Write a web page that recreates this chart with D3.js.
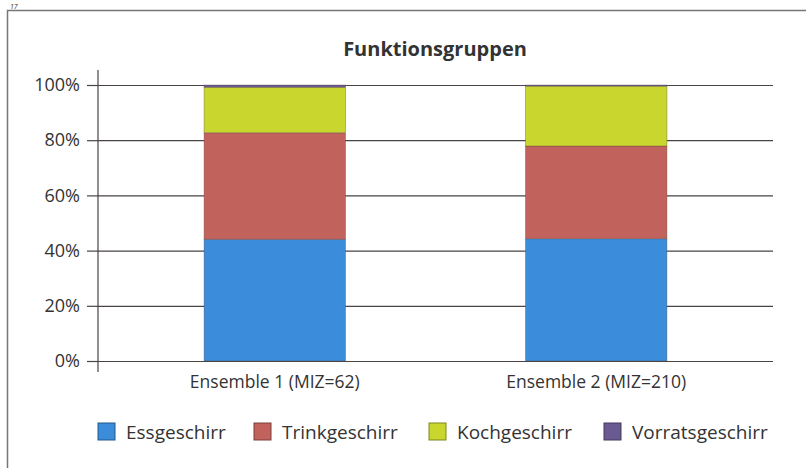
<!DOCTYPE html>
<html>
<head>
<meta charset="utf-8">
<script src="https://cdn.jsdelivr.net/npm/d3@7/dist/d3.min.js"></script>
<style>
  html, body { margin: 0; padding: 0; background: #fff; }
  svg { display: block; }
  text { font-family: "Open Sans", "Noto Sans", sans-serif; fill: #333; }
</style>
</head>
<body>
<svg id="chart" width="806" height="468"></svg>
<script>
// Share of each function group per ensemble (percent)
const categories = ["Ensemble 1 (MIZ=62)", "Ensemble 2 (MIZ=210)"];
const groups = ["Essgeschirr", "Trinkgeschirr", "Kochgeschirr", "Vorratsgeschirr"];
const essgeschirr = [44.1, 44.3];
const trinkgeschirr = [38.6, 33.6];
const kochgeschirr = [16.5, 21.7];
const vorratsgeschirr = [0.8, 0.4];
const yTicks = [0, 20, 40, 60, 80, 100];
const colors = ["#3b8cda", "#c2625c", "#c8d62e", "#6a5a92"];

const rows = categories.map((c, i) => ({
  category: c,
  Essgeschirr: essgeschirr[i],
  Trinkgeschirr: trinkgeschirr[i],
  Kochgeschirr: kochgeschirr[i],
  Vorratsgeschirr: vorratsgeschirr[i]
}));

const svg = d3.select("#chart");

// page frame and page number
svg.append("text").attr("x", 10).attr("y", 8.5)
  .attr("font-size", 7).attr("font-style", "italic").attr("fill", "#555").text("17");
svg.append("path").attr("d", "M7.5,468 V10.5 H806")
  .attr("fill", "none").attr("stroke", "#7a7676").attr("stroke-width", 1.5);

const x = d3.scaleBand().domain(categories).range([98, 773])
  .paddingInner(0.56).paddingOuter(0.33);
const y = d3.scaleLinear().domain([0, 100]).range([361, 85]);

// title
svg.append("text").attr("x", 435).attr("y", 56).attr("text-anchor", "middle")
  .attr("font-size", 20).attr("font-weight", "bold").attr("fill", "#222")
  .text("Funktionsgruppen");

// horizontal grid lines with ticks
const yAxis = svg.append("g").attr("transform", "translate(98,0)")
  .call(d3.axisLeft(y).tickValues(yTicks).tickSize(11).tickFormat(d => d + "%"));
yAxis.select(".domain").remove();
yAxis.selectAll(".tick line").attr("stroke", "#4a4444").attr("stroke-width", 1.2);
yAxis.selectAll(".tick text").attr("font-size", 18).attr("x", -18)
  .attr("fill", "#333").attr("font-family", "'Open Sans', sans-serif");
yAxis.selectAll(".tick").append("line")
  .attr("x1", 0).attr("x2", 773 - 98)
  .attr("stroke", "#4a4444").attr("stroke-width", 1.2);

// stacked bars
const stack = d3.stack().keys(groups)(rows);
svg.append("g").selectAll("g").data(stack).join("g")
  .attr("fill", (d, i) => colors[i])
  .selectAll("rect").data(d => d).join("rect")
  .attr("x", d => x(d.data.category))
  .attr("width", x.bandwidth())
  .attr("y", d => y(d[1]))
  .attr("height", d => y(d[0]) - y(d[1]))
  .attr("stroke", "rgba(90,70,70,0.45)").attr("stroke-width", 0.8);

// vertical axis line
svg.append("line").attr("x1", 98).attr("x2", 98).attr("y1", 70).attr("y2", 372)
  .attr("stroke", "#4a4444").attr("stroke-width", 1.2);

// category labels
const xAxis = svg.append("g").attr("transform", "translate(0,361)")
  .call(d3.axisBottom(x).tickSize(0).tickPadding(15));
xAxis.select(".domain").remove();
xAxis.selectAll(".tick text").attr("font-size", 17.5).attr("fill", "#333")
  .attr("font-family", "'Open Sans', sans-serif");

// legend
const legendX = [98, 254, 429, 604];
const legend = svg.append("g").selectAll("g").data(groups).join("g")
  .attr("transform", (d, i) => `translate(${legendX[i]},423)`);
legend.append("rect").attr("width", 17).attr("height", 17)
  .attr("fill", (d, i) => colors[i])
  .attr("stroke", (d, i) => d3.color(colors[i]).darker(1.3)).attr("stroke-width", 1);
legend.append("text").attr("x", 28).attr("y", 16)
  .attr("font-size", 19).attr("fill", "#333").text(d => d);
</script>
</body>
</html>
